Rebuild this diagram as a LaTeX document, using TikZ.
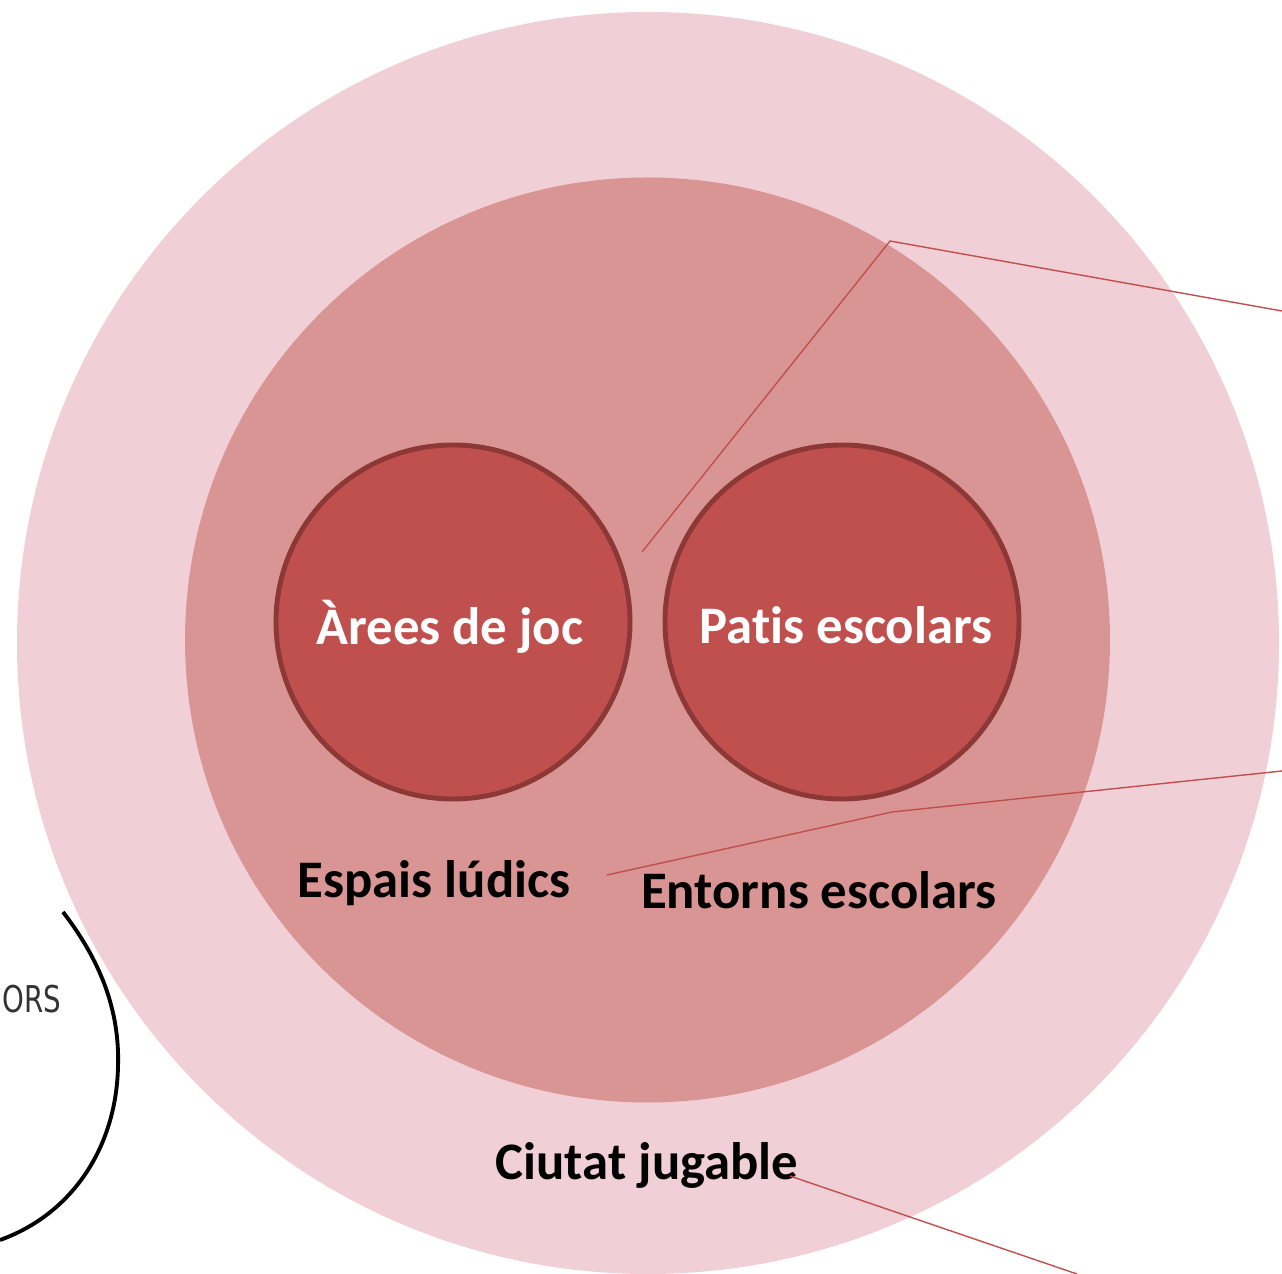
\documentclass[tikz,border=0pt]{standalone}
\usepackage{fontspec}
\setmainfont[Ligatures=NoCommon,RawFeature={-calt;-dlig}]{Carlito}
\newfontfamily\orsfont{DejaVu Sans}
\definecolor{outerpink}{HTML}{F0CFD6}
\definecolor{midrose}{HTML}{D99594}
\definecolor{innerred}{HTML}{C0504D}
\definecolor{innerborder}{HTML}{8C3836}
\definecolor{leaderred}{HTML}{C0504D}
\begin{document}
\begin{tikzpicture}[x=0.01cm,y=-0.01cm,
  ringlabel/.style={font=\fontsize{15}{18}\selectfont\bfseries, text=black, inner sep=0pt},
  innerlabel/.style={font=\fontsize{15}{18}\selectfont\bfseries, text=white, inner sep=0pt},
  leader/.style={draw=leaderred, line width=0.4pt}]
\useasboundingbox (0,0) rectangle (1282,1274);
\clip (0,0) rectangle (1282,1274);
% rings
\fill[outerpink] (648,643) circle [radius=631];
\fill[midrose] (647.5,640) circle [radius=462.5];
% inner circles
\draw[fill=innerred, draw=innerborder, line width=1.4pt] (453,622) circle [radius=177];
\draw[fill=innerred, draw=innerborder, line width=1.4pt] (842,622) circle [radius=177];
\node[innerlabel] (arees) at (450,627) {Àrees de joc};
\node[innerlabel] (patis) at (846,625) {Patis escolars};
\node[ringlabel] (espais) at (434,883) {Espais lúdics};
\node[ringlabel] (entorns) at (819,890) {Entorns escolars};
\node[ringlabel] (ciutat) at (647,1165) {Ciutat jugable};
% leaders
\coordinate (l1a) at (642,552);
\coordinate (l1b) at (890,241);
\coordinate (l1c) at (1282,311);
\coordinate (l2a) at (607,875);
\coordinate (l2b) at (892,812);
\coordinate (l2c) at (1282,771);
\coordinate (l3a) at (790,1176);
\coordinate (l3b) at (1077,1274);
\draw[leader] (l1a) -- (l1b) -- (l1c);
\draw[leader] (l2a) -- (l2b) -- (l2c);
\draw[leader] (l3a) -- (l3b);
% left fragment
\node[font=\orsfont\fontsize{10.5}{12}\selectfont, text=black!80, anchor=west, inner sep=0pt, xscale=0.75, transform shape] (ors) at (2,999) {ORS};
\coordinate (c1) at (63,912);
\coordinate (c2) at (118,1067);
\coordinate (c3) at (0,1240);
\draw[line width=1.1pt, black] (c1) .. controls (100,960) and (120,1010) .. (c2) .. controls (116,1150) and (70,1215) .. (c3);
\end{tikzpicture}
\end{document}
